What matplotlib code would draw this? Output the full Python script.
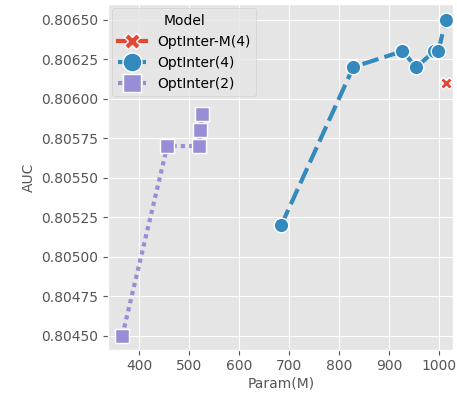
import matplotlib
matplotlib.use("Agg")
import matplotlib.pyplot as plt

plt.style.use("ggplot")

m4_x = [1013]
m4_y = [0.80610]
o4_x = [684, 828, 926, 954, 990, 998, 1013]
o4_y = [0.80520, 0.80620, 0.80630, 0.80620, 0.80630, 0.80630, 0.80650]
o2_x = [366, 456, 520, 522, 526]
o2_y = [0.80450, 0.80570, 0.80570, 0.80580, 0.80590]
series_names = ["OptInter-M(4)", "OptInter(4)", "OptInter(2)"]

colors = ["#E24A33", "#348ABD", "#988ED5"]
dashes = [None, (4, 1.5), (1, 1)]
markers = ["X", "o", "s"]
msizes = [9, 10.5, 10.5]

fig = plt.figure(figsize=(4.57, 4.01), dpi=100)
ax = fig.add_axes([0.237, 0.128, 0.755, 0.862])

data = [(m4_x, m4_y), (o4_x, o4_y), (o2_x, o2_y)]
handles = []
for (xs, ys), name, c, d, m, ms in zip(data, series_names, colors, dashes, markers, msizes):
    ln, = ax.plot(xs, ys, color=c, lw=3, marker=m, markersize=ms,
                  markeredgecolor="white", markeredgewidth=1, label=name)
    if d is not None:
        ln.set_dashes(d)
    handles.append(ln)

ax.set_xlim(338, 1028)
ax.set_ylim(0.804411, 0.806599)
ax.set_xticks([400, 500, 600, 700, 800, 900, 1000])
ax.set_yticks([0.80450, 0.80475, 0.80500, 0.80525, 0.80550, 0.80575, 0.80600, 0.80625, 0.80650])
ax.set_yticklabels(["%.5f" % v for v in ax.get_yticks()])
ax.tick_params(labelsize=10, colors="#555555", labelcolor="#555555")
ax.set_xlabel("Param(M)", fontsize=10, color="#555555", labelpad=2)
ax.set_ylabel("AUC", fontsize=10, color="#555555", labelpad=4)

leg = ax.legend(handles=handles, title="Model", loc="upper left", fontsize=10,
                title_fontsize=10, markerscale=1.3, handlelength=2.0,
                borderaxespad=0.3)

fig.savefig("out.png", dpi=100)
